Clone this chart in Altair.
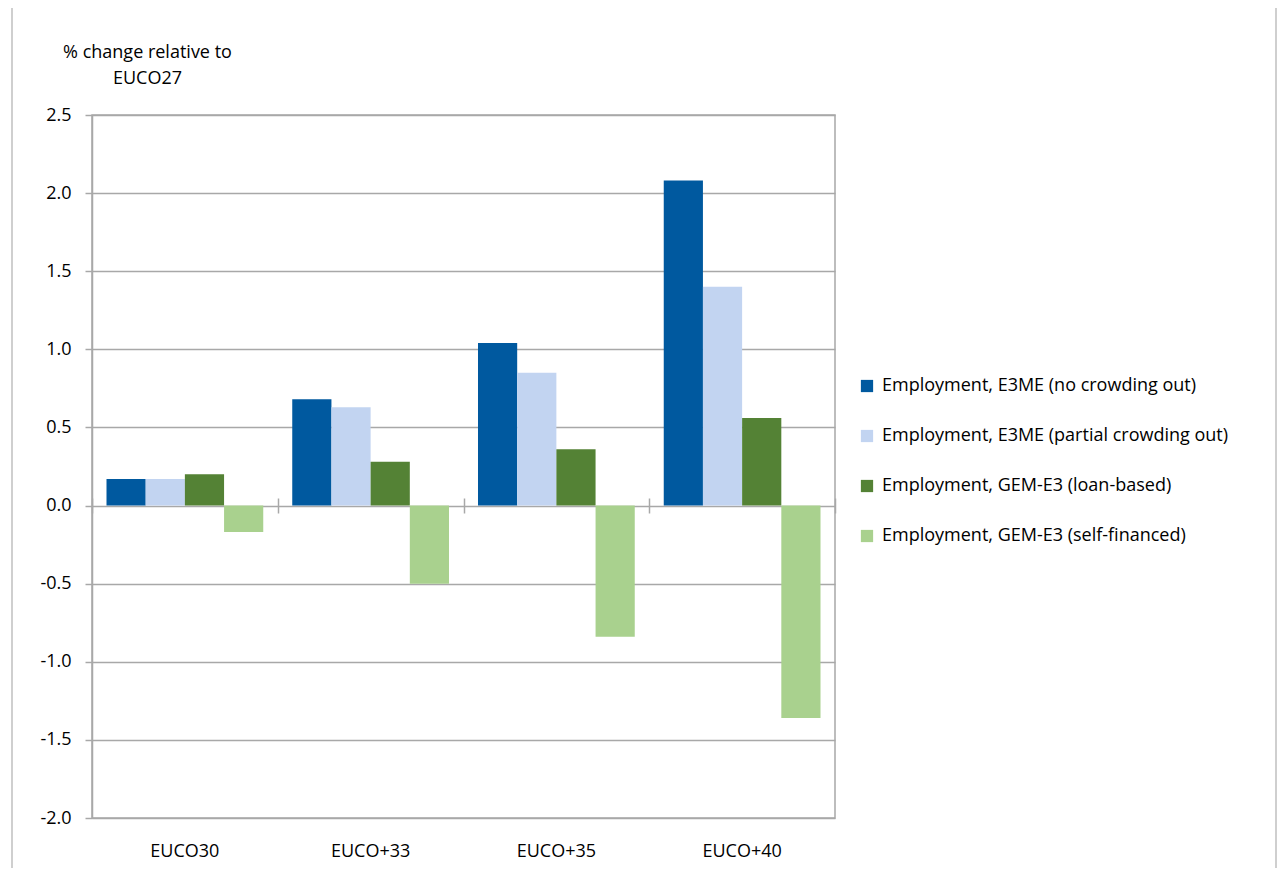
import altair as alt
import pandas as pd

scenarios = ["EUCO30", "EUCO+33", "EUCO+35", "EUCO+40"]
series = [
    "Employment, E3ME (no crowding out)",
    "Employment, E3ME (partial crowding out)",
    "Employment, GEM-E3 (loan-based)",
    "Employment, GEM-E3 (self-financed)",
]
e3me_no_crowding = [0.17, 0.68, 1.04, 2.08]
e3me_partial = [0.17, 0.63, 0.85, 1.40]
gem_loan = [0.20, 0.28, 0.36, 0.56]
gem_self = [-0.17, -0.50, -0.84, -1.36]
colors = ["#00599f", "#c2d4f1", "#548235", "#a9d18e"]
y_ticks = [-2.0, -1.5, -1.0, -0.5, 0.0, 0.5, 1.0, 1.5, 2.0, 2.5]

rows = []
for name, vals in zip(series, [e3me_no_crowding, e3me_partial, gem_loan, gem_self]):
    for sc, v in zip(scenarios, vals):
        rows.append({"scenario": sc, "series": name, "value": v})
df = pd.DataFrame(rows)

FONT = "Open Sans"
FS = 18
GRID = "#a8a8a8"

x_scale = alt.Scale(domain=scenarios, paddingInner=0, paddingOuter=0)

bars = alt.Chart(df).mark_bar().encode(
    x=alt.X("scenario:N", scale=x_scale, sort=scenarios,
            axis=alt.Axis(title=None, labelAngle=0, ticks=False, domain=False,
                          grid=False, labelPadding=24, labelFontSize=FS,
                          labelFont=FONT, labelColor="#000000", orient="bottom")),
    xOffset=alt.XOffset("series:N", sort=series,
                        scale=alt.Scale(domain=series, paddingInner=0, paddingOuter=0.37)),
    y=alt.Y("value:Q", scale=alt.Scale(domain=[-2.0, 2.5], nice=False),
            axis=alt.Axis(values=y_ticks,
                          labelExpr="(datum.value < 0 ? '-' : '') + format(abs(datum.value), '.1f')",
                          title=["% change relative to", "EUCO27"],
                          titleAngle=0, titleX=55, titleY=-58, titleAlign="center",
                          titleBaseline="alphabetic", titleLineHeight=26,
                          titleFontWeight="normal", titleFontSize=FS, titleFont=FONT,
                          titleColor="#000000",
                          labelFontSize=FS, labelFont=FONT, labelColor="#000000",
                          labelPadding=14, tickSize=7, tickColor=GRID, tickWidth=1.5,
                          domainColor=GRID, domainWidth=1.5,
                          grid=True, gridColor=GRID, gridWidth=1.5)),
    color=alt.Color("series:N", sort=series,
                    scale=alt.Scale(domain=series, range=colors),
                    legend=alt.Legend(title=None, orient="none", legendX=766, legendY=262,
                                      symbolType="square", symbolSize=150,
                                      symbolStrokeWidth=0, labelFontSize=FS,
                                      labelFont=FONT, labelColor="#000000",
                                      rowPadding=32, labelOffset=6, labelLimit=500)),
)

ticks_layer = alt.Chart(df).mark_point(opacity=0).encode(
    x=alt.X("scenario:N", scale=x_scale, sort=scenarios,
            axis=alt.Axis(title=None, labels=False, domain=False, grid=False,
                          ticks=True, tickBand="extent", tickSize=15,
                          tickColor=GRID, tickWidth=1.5, offset=-320, orient="bottom")),
    y=alt.Y("value:Q"),
)

frame_df = pd.DataFrame({"k": [0]})
frame = alt.Chart(frame_df).mark_rect(fillOpacity=0, stroke="#c0c0c0", strokeWidth=1.5).encode(
    x=alt.value(-80), x2=alt.value(1184), y=alt.value(-113), y2=alt.value(775)
)

chart = alt.layer(frame, bars, ticks_layer).resolve_axis(x="independent").properties(
    width=743, height=703,
    autosize=alt.AutoSizeParams(type="none"),
    padding={"left": 84, "top": 107, "right": 443, "bottom": 50},
    background="white",
).configure_view(stroke=GRID, strokeWidth=1.5)

chart.save("out.html", embed_options={"renderer": "svg", "actions": False})
